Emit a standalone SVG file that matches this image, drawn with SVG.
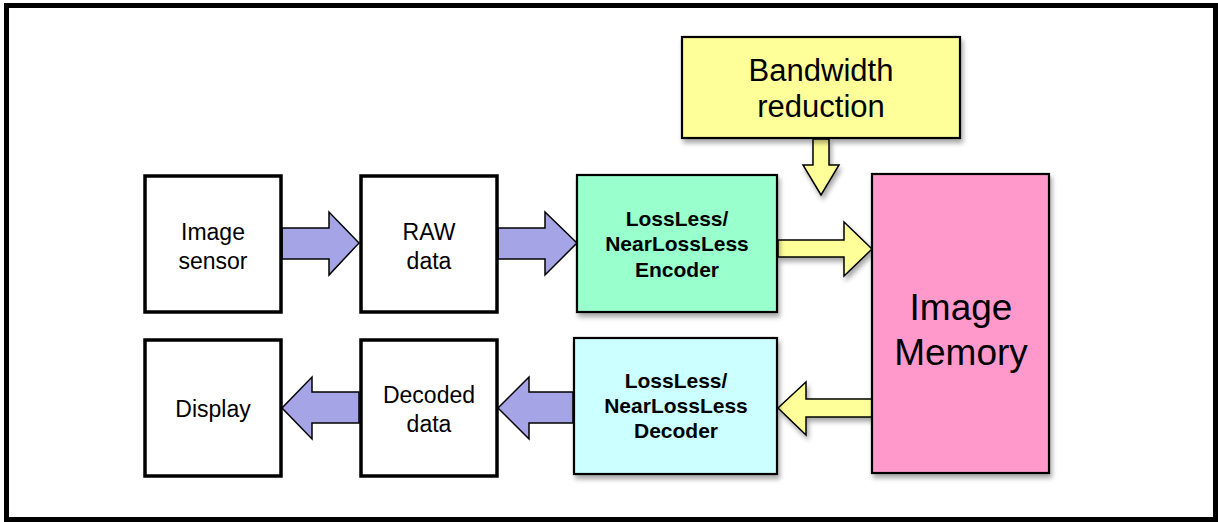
<svg xmlns="http://www.w3.org/2000/svg" width="1218" height="522" viewBox="0 0 1218 522">
<style>
.frame{fill:#fff;stroke:#000;stroke-width:5}
.wbox{fill:#fff;stroke:#000;stroke-width:3.5}
.cbox{stroke:#000;stroke-width:2.2;filter:url(#sh)}
.ablue{fill:#A4A4E6;stroke:#000;stroke-width:1.5;stroke-linejoin:miter}
.ayel{fill:#FFFF99;stroke:#000;stroke-width:1.5;filter:url(#sh)}
.t{font-family:"Liberation Sans",Arial,sans-serif;fill:#000;text-anchor:middle}
.n{font-size:23px}
.b{font-size:21px;font-weight:bold}
</style>
<defs>
<filter id="sh" x="-10%" y="-10%" width="130%" height="130%">
<feGaussianBlur in="SourceAlpha" stdDeviation="2.5"/>
<feOffset dx="2" dy="4" result="o"/>
<feComponentTransfer><feFuncA type="linear" slope="0.35"/></feComponentTransfer>
<feMerge><feMergeNode/><feMergeNode in="SourceGraphic"/></feMerge>
</filter>
</defs>
<rect class="frame" x="6.5" y="5.5" width="1209" height="514"/>
<g id="connectors">
<polygon class="ablue" points="282,228 329,228 329,212 359,243 329,275 329,259 282,259"/>
<polygon class="ablue" points="498,228 545,228 545,212 577,243 545,275 545,259 498,259"/>
<polygon class="ayel" points="778,240 844,240 844,222 872,249 844,276 844,257 778,257"/>
<polygon class="ayel" points="813,139 829,139 829,165 839,165 821,195 803,165 813,165"/>
<polygon class="ayel" points="872,399 806,399 806,382 778,408 806,435 806,417 872,417"/>
<polygon class="ablue" points="573,392 529,392 529,377 498,408 529,439 529,423 573,423"/>
<polygon class="ablue" points="359,392 312,392 312,377 282,408 312,439 312,423 359,423"/>
</g>
<g id="image-sensor">
<rect class="wbox" x="145" y="176" width="136" height="136"/>
<text class="t n" x="213" y="240">Image</text>
<text class="t n" x="213" y="269">sensor</text>
</g>
<g id="raw-data">
<rect class="wbox" x="361" y="176" width="136" height="136"/>
<text class="t n" x="429" y="240">RAW</text>
<text class="t n" x="429" y="269">data</text>
</g>
<g id="encoder">
<rect class="cbox" x="577" y="175" width="200" height="137" fill="#99FFCC"/>
<text class="t b" x="677" y="226">LossLess/</text>
<text class="t b" x="677" y="251">NearLossLess</text>
<text class="t b" x="677" y="277">Encoder</text>
</g>
<g id="bandwidth">
<rect class="cbox" x="682" y="37" width="278" height="101" fill="#FFFF99"/>
<text class="t" x="821" y="81" font-size="31">Bandwidth</text>
<text class="t" x="821" y="117" font-size="31">reduction</text>
</g>
<g id="image-memory">
<rect class="cbox" x="872" y="174" width="177" height="299" fill="#FF99CC"/>
<text class="t" x="961" y="320" font-size="37">Image</text>
<text class="t" x="961" y="365" font-size="37">Memory</text>
</g>
<g id="decoder">
<rect class="cbox" x="574" y="338" width="203" height="136" fill="#CCFFFF"/>
<text class="t b" x="676" y="388">LossLess/</text>
<text class="t b" x="676" y="413">NearLossLess</text>
<text class="t b" x="676" y="438">Decoder</text>
</g>
<g id="display">
<rect class="wbox" x="145" y="340" width="136" height="136"/>
<text class="t n" x="213" y="417">Display</text>
</g>
<g id="decoded-data">
<rect class="wbox" x="361" y="340" width="136" height="136"/>
<text class="t n" x="429" y="403">Decoded</text>
<text class="t n" x="429" y="432">data</text>
</g>
</svg>
